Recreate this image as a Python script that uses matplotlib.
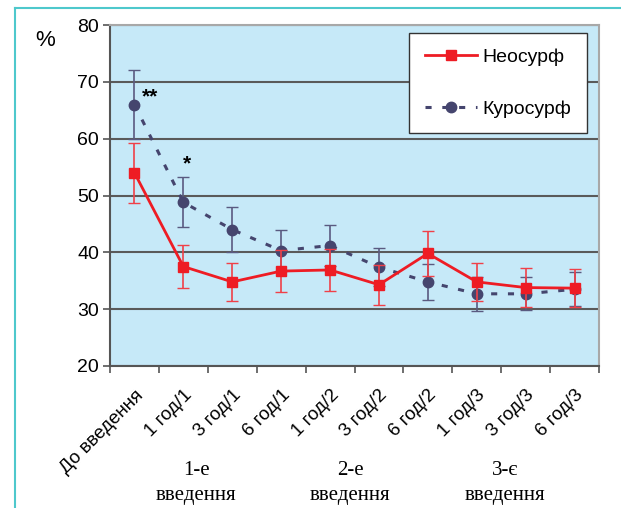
import numpy as np
import matplotlib.pyplot as plt
from matplotlib.lines import Line2D

# категории по оси X
categories = ["До введення", "1 год/1", "3 год/1", "6 год/1", "1 год/2",
              "3 год/2", "6 год/2", "1 год/3", "3 год/3", "6 год/3"]

# Неосурф
neo = [54.0, 37.5, 34.8, 36.7, 36.9, 34.3, 39.8, 34.8, 33.8, 33.7]
neo_err = [5.3, 3.8, 3.4, 3.7, 3.7, 3.5, 3.9, 3.4, 3.5, 3.4]

# Куросурф
kur = [66.0, 48.8, 44.0, 40.3, 41.2, 37.4, 34.8, 32.7, 32.7, 33.5]
kur_err = [6.0, 4.4, 4.0, 3.6, 3.6, 3.3, 3.2, 3.0, 2.9, 3.0]

groups = ["1-е\nвведення", "2-е\nвведення", "3-є\nвведення"]

W, H = 621, 508
fig = plt.figure(figsize=(W / 100, H / 100), dpi=100)
plt.rcParams['font.family'] = ['Liberation Sans', 'DejaVu Sans']

ax = fig.add_axes([110 / W, 1 - 366 / H, (599 - 110) / W, (366 - 25) / H])
ax.set_facecolor('#c6e9f8')

x = np.arange(len(categories))
red = '#ee1c24'
navy = '#45456e'
kur_ls = (0, (2, 3.5))

ax.errorbar(x, kur, yerr=kur_err, color=navy, ls=kur_ls, lw=2.2,
            marker='o', ms=7.5, ecolor='#5a5a80', elinewidth=1.2, capsize=4,
            zorder=3)
ax.errorbar(x, neo, yerr=neo_err, color=red, ls='-', lw=2, marker='s',
            ms=7.5, ecolor='#f04048', elinewidth=1.2, capsize=4, zorder=4)

ax.set_xlim(-0.5, len(categories) - 0.5)
ax.set_ylim(20, 80)
ax.set_yticks(range(20, 81, 10))
ax.yaxis.grid(True, color='#5a5a5a', lw=1.5)
ax.set_axisbelow(True)
ax.tick_params(axis='y', labelsize=14, length=5, width=1.2, color='#555555', pad=3)

ax.set_xticks(x)
ax.set_xticklabels(categories, rotation=45, ha='right', rotation_mode='anchor',
                   fontsize=13.5)
ax.tick_params(axis='x', length=0, pad=15)
ax.set_xticks(np.arange(len(categories) + 1) - 0.5, minor=True)
ax.tick_params(axis='x', which='minor', length=5, width=1.2, color='#555555')

for s in ['left', 'bottom']:
    ax.spines[s].set_color('#555555')
    ax.spines[s].set_linewidth(1.5)
for s in ['right', 'top']:
    ax.spines[s].set_color('#a8a8a8')
    ax.spines[s].set_linewidth(1.5)

# звёздочки значимости
ax.text(0.15, 67.3, '**', fontsize=15, fontweight='bold', va='center')
ax.text(1.0, 55.5, '*', fontsize=15, fontweight='bold', va='center')

h_neo = Line2D([], [], color=red, lw=2, marker='s', ms=7.5)
h_kur = Line2D([], [], color=navy, lw=2.2, ls=kur_ls, marker='o', ms=7.5)
leg = ax.legend([h_neo, h_kur], ['Неосурф', 'Куросурф'], loc='upper right',
                bbox_to_anchor=(0.976, 0.977), fontsize=14, frameon=True,
                fancybox=False, edgecolor='#333333', labelspacing=1.75,
                borderpad=0.8, handlelength=2.7, handletextpad=0.3,
                borderaxespad=0)
leg.get_frame().set_linewidth(1.0)
leg.get_frame().set_facecolor('white')
leg.get_frame().set_alpha(1)

fig.text(45 / W, 1 - 40 / H, '%', fontsize=16, ha='center', va='center')

for gx, g in zip([196, 350, 505], groups):
    fig.text(gx / W, 1 - 483 / H, g, fontsize=15, ha='center', va='center',
             family='Liberation Serif', linespacing=1.45)

# рамка
teal = '#4ec8cc'
fig.add_artist(Line2D([15 / W, 1], [1 - 8 / H, 1 - 8 / H], color=teal, lw=1.5,
                      transform=fig.transFigure))
fig.add_artist(Line2D([15 / W, 15 / W], [0, 1 - 8 / H], color=teal, lw=1.5,
                      transform=fig.transFigure))

fig.savefig('out.png', dpi=100)
